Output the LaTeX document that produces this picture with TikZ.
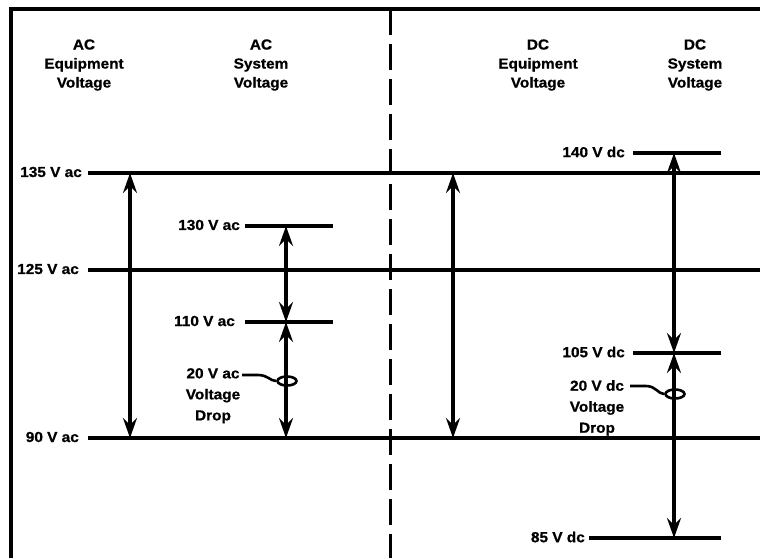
\documentclass[tikz,border=0pt]{standalone}
\usepackage{fontspec}
\setmainfont{Liberation Sans}[BoldFeatures={FakeBold=0.8,FakeStretch=1.06}]
\usetikzlibrary{arrows.meta,shapes.geometric}
\tikzset{
  vhead/.tip={Stealth[length=20pt,width=14pt,inset=7pt]},
  lbl/.style={font=\fontsize{14.5}{16}\selectfont\bfseries, inner sep=0pt},
  hdr/.style={lbl, align=center, font=\fontsize{14.5}{19}\selectfont\bfseries},
  level/.style={line width=3.4pt},
  frame/.style={line width=3.4pt},
  sep/.style={line width=3pt, dash pattern=on 26pt off 9pt},
  dbl/.style={line width=3.2pt, arrows={vhead-vhead}},
  lead/.style={line width=2.6pt},
  ring/.style={draw, line width=2.6pt, ellipse, minimum width=19pt, minimum height=9pt, inner sep=0pt}
}
\begin{document}
\begin{tikzpicture}[x=1pt,y=-1pt]
\useasboundingbox (0,0) rectangle (760,558);
% frame
\coordinate (ftr) at (760,9);
\coordinate (ftl) at (11,9);
\coordinate (fbl) at (11,558);
\draw[frame] (ftr) -- (ftl) -- (fbl);
\coordinate (st) at (390,9);
\coordinate (sb) at (390,558);
\draw[sep] (st) -- (sb);
% headers
\node[hdr] (h1) at (84,65) {AC\\Equipment\\Voltage};
\node[hdr] (h2) at (261,65) {AC\\System\\Voltage};
\node[hdr] (h3) at (538,65) {DC\\Equipment\\Voltage};
\node[hdr] (h4) at (695,65) {DC\\System\\Voltage};
% main levels
\node[lbl, anchor=east] (l135) at (82,172) {135 V ac};
\node[lbl, anchor=east] (l125) at (79,269) {125 V ac};
\node[lbl, anchor=east] (l90) at (79,437) {90 V ac};
\coordinate (e135) at (760,173);
\coordinate (e125) at (760,270);
\coordinate (e90) at (760,438);
\draw[level] ([xshift=6pt]l135.east |- e135) -- (e135);
\draw[level] ([xshift=9pt]l125.east |- e125) -- (e125);
\draw[level] ([xshift=9pt]l90.east |- e90) -- (e90);
% AC system levels
\node[lbl, anchor=east] (l130) at (240,225) {130 V ac};
\node[lbl, anchor=east] (l110) at (235,321) {110 V ac};
\coordinate (s130) at (245,226); \coordinate (t130) at (333,226);
\coordinate (s110) at (245,322); \coordinate (t110) at (333,322);
\draw[level] (s130) -- (t130);
\draw[level] (s110) -- (t110);
% DC system levels
\node[lbl, anchor=east] (l140) at (625,152) {140 V dc};
\node[lbl, anchor=east] (l105) at (625,352) {105 V dc};
\node[lbl, anchor=east] (l85) at (585,537) {85 V dc};
\coordinate (s140) at (633,153); \coordinate (t140) at (721,153);
\coordinate (s105) at (633,353); \coordinate (t105) at (721,353);
\coordinate (s85) at (589,538); \coordinate (t85) at (721,538);
\draw[level] (s140) -- (t140);
\draw[level] (s105) -- (t105);
\draw[level] (s85) -- (t85);
% arrows
\coordinate (a1t) at (130,173); \coordinate (a1b) at (130,438);
\draw[dbl] (a1t) -- (a1b);
\coordinate (a2t) at (286,226); \coordinate (a2m) at (286,322); \coordinate (a2b) at (286,438);
\draw[dbl] (a2t) -- (a2m);
\draw[dbl] (a2m) -- (a2b);
\coordinate (a3t) at (453,173); \coordinate (a3b) at (453,438);
\draw[dbl] (a3t) -- (a3b);
\coordinate (a4t) at (674,153); \coordinate (a4m) at (674,353); \coordinate (a4b) at (674,538);
\draw[dbl] (a4t) -- (a4m);
\draw[dbl] (a4m) -- (a4b);
% voltage drop notes
\node[lbl, align=center, font=\fontsize{14.5}{21}\selectfont\bfseries, anchor=north] (vac) at (213,368) {20 V ac\\Voltage\\Drop};
\node[ring] (rac) at (287,381) {};
\coordinate (lac) at (242,375);
\draw[lead] (lac) -- (258,375) .. controls (268,375) and (270,381) .. (rac.west);
\node[lbl, align=center, font=\fontsize{14.5}{21}\selectfont\bfseries, anchor=north] (vdc) at (597,380) {20 V dc\\Voltage\\Drop};
\node[ring] (rdc) at (675,394) {};
\coordinate (ldc) at (630,386);
\draw[lead] (ldc) -- (646,386) .. controls (656,386) and (658,394) .. (rdc.west);
\end{tikzpicture}
\end{document}
